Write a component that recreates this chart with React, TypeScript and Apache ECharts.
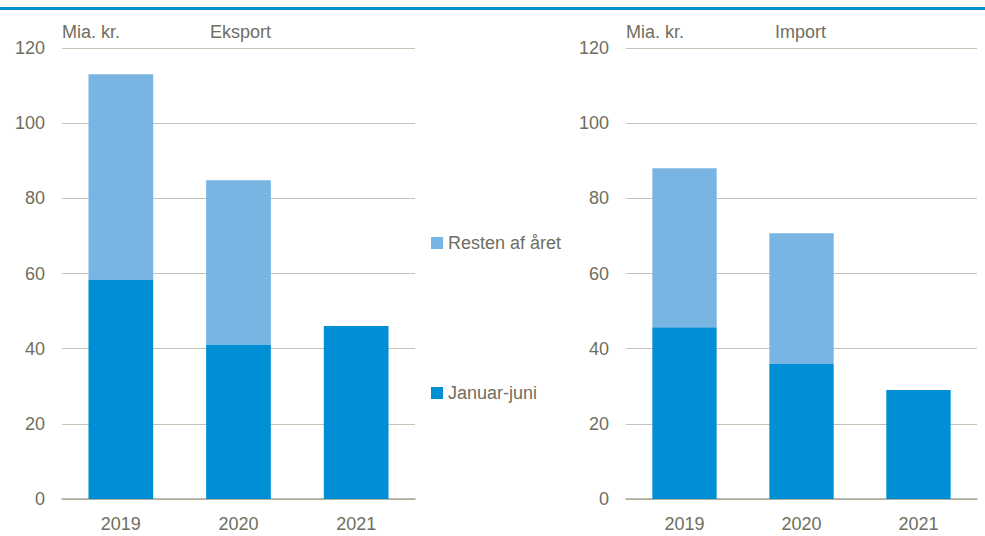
import React, { useEffect, useRef } from "react";
import * as echarts from "echarts";

const categories = ["2019", "2020", "2021"];
const eksportJanJuni = [58.3, 41.0, 46.0];
const eksportResten = [54.7, 43.8, 0];
const importJanJuni = [45.7, 35.9, 29.0];
const importResten = [42.3, 34.8, 0];
const yTicks = { min: 0, max: 120, interval: 20 };

const FONT = "'Liberation Sans Narrow', 'Arial Narrow', 'Liberation Sans', sans-serif";
const TEXT = "#6f6e60";
const DARK = "#008fd5";
const LIGHT = "#78b5e3";

export default function App() {
  const ref = useRef<HTMLDivElement>(null);
  useEffect(() => {
    const chart = echarts.init(ref.current!, null, { renderer: "svg" });
    const xAxis = (gridIndex: number) => ({
      type: "category",
      gridIndex,
      data: categories,
      axisTick: { show: false },
      axisLine: { lineStyle: { color: "#a8a696", width: 1.5 } },
      axisLabel: { color: TEXT, fontFamily: FONT, fontSize: 18, margin: 16 },
    });
    const yAxis = (gridIndex: number) => ({
      type: "value",
      gridIndex,
      ...yTicks,
      axisLine: { show: false },
      axisTick: { show: false },
      splitLine: { lineStyle: { color: "#c4c3b6", width: 1 } },
      axisLabel: { color: TEXT, fontFamily: FONT, fontSize: 18, margin: 17 },
    });
    const bar = (name: string, data: number[], idx: number, color: string) => ({
      name,
      type: "bar",
      xAxisIndex: idx,
      yAxisIndex: idx,
      stack: "s" + idx,
      data,
      barWidth: "55%",
      itemStyle: { color },
    });
    chart.setOption({
      animation: false,
      grid: [
        { left: 62, right: 570, top: 48, bottom: 37 },
        { left: 626, right: 8, top: 48, bottom: 37 },
      ],
      xAxis: [xAxis(0), xAxis(1)],
      yAxis: [yAxis(0), yAxis(1)],
      legend: {
        orient: "vertical",
        left: 431,
        top: 234,
        padding: 0,
        itemWidth: 12,
        itemHeight: 12,
        itemGap: 132,
        icon: "rect",
        data: ["Resten af året", "Januar-juni"],
        textStyle: { color: TEXT, fontFamily: FONT, fontSize: 18 },
      },
      series: [
        bar("Januar-juni", eksportJanJuni, 0, DARK),
        bar("Resten af året", eksportResten, 0, LIGHT),
        bar("Januar-juni", importJanJuni, 1, DARK),
        bar("Resten af året", importResten, 1, LIGHT),
      ],
      graphic: [
        { type: "rect", shape: { x: 0, y: 7, width: 985, height: 3 }, style: { fill: "#0090d0" } },
        { type: "text", left: 62, top: 23, style: { text: "Mia. kr.", fill: TEXT, font: `18px ${FONT}` } },
        { type: "text", left: 210, top: 23, style: { text: "Eksport", fill: TEXT, font: `18px ${FONT}` } },
        { type: "text", left: 626, top: 23, style: { text: "Mia. kr.", fill: TEXT, font: `18px ${FONT}` } },
        { type: "text", left: 775, top: 23, style: { text: "Import", fill: TEXT, font: `18px ${FONT}` } },
      ],
    });
    return () => chart.dispose();
  }, []);
  return (
    <div
      ref={ref}
      style={{ position: "absolute", left: 0, top: 0, width: 985, height: 536, background: "#fff" }}
    />
  );
}
